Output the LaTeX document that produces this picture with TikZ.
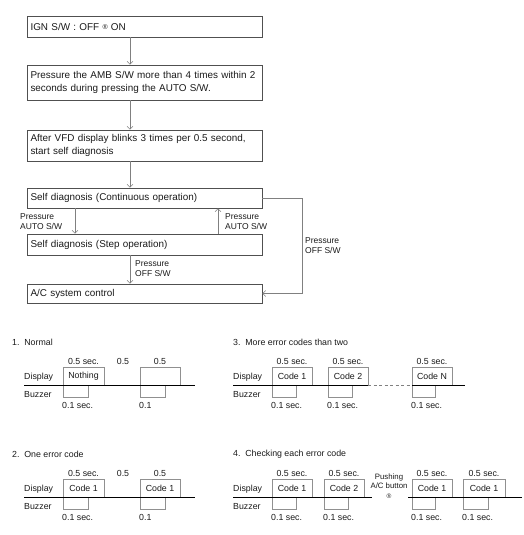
\documentclass[tikz,border=0pt]{standalone}
\usepackage{fontspec}
\setmainfont{Liberation Sans}
\usetikzlibrary{arrows.meta,calc}
\definecolor{boxc}{HTML}{505050}
\definecolor{linec}{HTML}{808080}
\definecolor{tboxc}{HTML}{909090}
\definecolor{txtc}{HTML}{1A1A1A}
\newcommand{\tpulse}[7]{%
  \draw[tbox] (#1,#4) -- (#1,#4-18) -- (#2,#4-18) -- (#2,#4);
  \draw[tbox] (#1,#4) -- (#1,#4+12) -- (#3,#4+12) -- (#3,#4);
  \node[tl] at ({(#1+#2)/2},#4-8.5) {#5};
  \node[tl] at ({(#1+#2)/2},#4-24) {#6};
  \node[tl,anchor=west] at (#1-1,#4+20.5) {#7};
}
\newcommand{\mysym}{\raisebox{1pt}{\fontsize{7}{7}\selectfont ®}}
\begin{document}
\begin{tikzpicture}[x=1pt,y=-1pt,
  fbox/.style={draw=boxc, line width=0.6pt, minimum width=235pt, text width=228pt,
    align=left, inner xsep=3.5pt, inner ysep=0pt, text=txtc,
    font=\fontsize{9.9}{13}\selectfont, anchor=center},
  conn/.style={draw=linec, line width=0.6pt, -{Straight Barb[length=3pt,width=6pt]}},
  lbl/.style={font=\fontsize{8.5}{10}\selectfont, align=left, inner sep=0pt, anchor=north west, text=txtc},
  tl/.style={font=\fontsize{8.8}{10}\selectfont, inner sep=0pt, text=txtc},
  ttl/.style={font=\fontsize{8.8}{10}\selectfont, inner sep=0pt, anchor=west, text=txtc},
  tbox/.style={draw=tboxc, line width=0.6pt},
  baseln/.style={draw=black, line width=0.8pt},
]
\useasboundingbox (0,0) rectangle (523,535);

% ---------- flowchart ----------
\node[fbox, minimum height=21pt] (b1) at (144.5,26.5) {IGN S/W : OFF \mysym{} ON};
\node[fbox, minimum height=35pt] (b2) at (144.5,82.5) {Pressure the AMB S/W more than 4 times within 2\\seconds during pressing the AUTO S/W.};
\node[fbox, minimum height=31pt] (b3) at (144.5,145.5) {After VFD display blinks 3 times per 0.5 second,\\start self diagnosis};
\node[fbox, minimum height=20pt] (b4) at (144.5,198) {Self diagnosis (Continuous operation)};
\node[fbox, minimum height=21pt] (b5) at (144.5,244.5) {Self diagnosis (Step operation)};
\node[fbox, minimum height=19pt] (b6) at (144.5,293.5) {A/C system control};

\coordinate (ax) at (130,0);
\coordinate (lx) at (75,0);
\coordinate (rx) at (218,0);
\coordinate (loopx) at (302,0);

\draw[conn] (b1.south -| ax) -- (b2.north -| ax);
\draw[conn] (b2.south -| ax) -- (b3.north -| ax);
\draw[conn] (b3.south -| ax) -- (b4.north -| ax);
\draw[conn] (b4.south -| lx) -- (b5.north -| lx);
\draw[conn] (b5.north -| rx) -- (b4.south -| rx);
\draw[conn] (b5.south -| ax) -- (b6.north -| ax);
\draw[conn] (b4.east) -- (b4.east -| loopx) -- (b6.east -| loopx) -- (b6.east);

\node[lbl] (la) at (20,213) {Pressure\\AUTO S/W};
\node[lbl] (lb) at (225,213) {Pressure\\AUTO S/W};
\node[lbl] (lc) at (135,260) {Pressure\\OFF S/W};
\node[lbl] (ld) at (305,237) {Pressure\\OFF S/W};

% ---------- 1. Normal ----------
\node[ttl] (t1) at (12,342) {1.\hspace{0.55em}Normal};
\node[tl,anchor=west] at (24,377) {Display};
\node[tl,anchor=west] at (24,395) {Buzzer};
\tpulse{63}{104}{88}{385}{Nothing}{0.5 sec.}{0.1 sec.}
\tpulse{140}{180}{165}{385}{}{0.5}{0.1}
\node[tl] at (123,361) {0.5};
\draw[baseln] (24,385) -- (195,385);

% ---------- 2. One error code ----------
\node[ttl] (t2) at (12,454) {2.\hspace{0.55em}One error code};
\node[tl,anchor=west] at (24,489) {Display};
\node[tl,anchor=west] at (24,507) {Buzzer};
\tpulse{63}{104}{88}{497}{Code 1}{0.5 sec.}{0.1 sec.}
\tpulse{140}{180}{165}{497}{Code 1}{0.5}{0.1}
\node[tl] at (123,473) {0.5};
\draw[baseln] (24,497) -- (195,497);

% ---------- 3. More error codes than two ----------
\node[ttl] (t3) at (233,342) {3.\hspace{0.55em}More error codes than two};
\node[tl,anchor=west] at (233,377) {Display};
\node[tl,anchor=west] at (233,395) {Buzzer};
\tpulse{272}{312}{296}{385}{Code 1}{0.5 sec.}{0.1 sec.}
\tpulse{328}{368}{352}{385}{Code 2}{0.5 sec.}{0.1 sec.}
\tpulse{412}{452}{435}{385}{Code N}{0.5 sec.}{0.1 sec.}
\draw[baseln] (233,385) -- (368,385);
\draw[draw=linec, line width=0.6pt, dash pattern=on 3pt off 2.5pt] (368,385) -- (412,385);
\draw[baseln] (412,385) -- (465,385);

% ---------- 4. Checking each error code ----------
\node[ttl] (t4) at (233,454) {4.\hspace{0.55em}Checking each error code};
\node[tl,anchor=west] at (233,489) {Display};
\node[tl,anchor=west] at (233,507) {Buzzer};
\tpulse{272}{312}{296}{497}{Code 1}{0.5 sec.}{0.1 sec.}
\tpulse{324}{364}{348}{497}{Code 2}{0.5 sec.}{0.1 sec.}
\tpulse{412}{452}{435}{497}{Code 1}{0.5 sec.}{0.1 sec.}
\tpulse{463}{505}{488}{497}{Code 1}{0.5 sec.}{0.1 sec.}
\draw[baseln] (233,497) -- (372,497);
\draw[baseln] (408,497) -- (522,497);
\node[font=\fontsize{7.8}{9.5}\selectfont, align=center, inner sep=0pt, text=txtc] (push) at (389,486) {Pushing\\A/C button\\{\fontsize{6.5}{6.5}\selectfont ®}};
\end{tikzpicture}
\end{document}
